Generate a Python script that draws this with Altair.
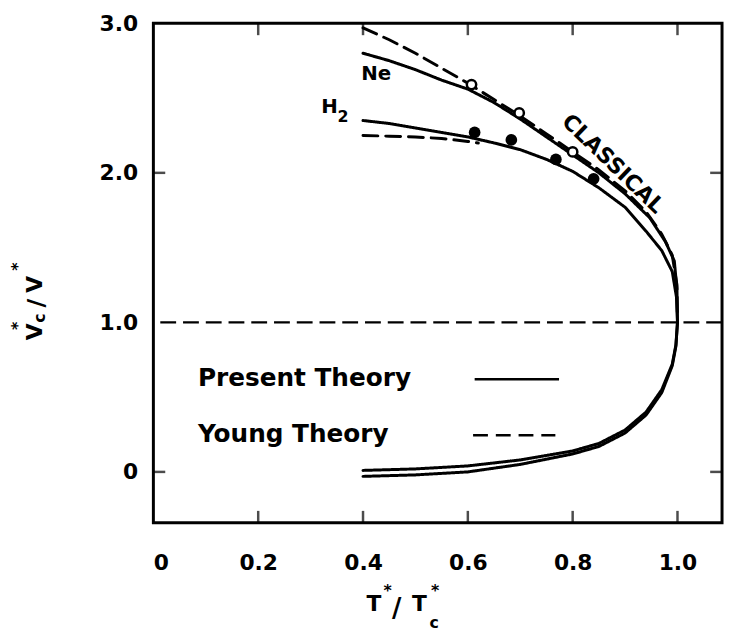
import altair as alt
import pandas as pd

FONT = "DejaVu Sans"

# ---------------- data ----------------
x_tick_values = [0, 0.2, 0.4, 0.6, 0.8, 1.0]
y_tick_values = [0, 1.0, 2.0, 3.0]
x_inward_ticks = [0.2, 0.4, 0.6, 0.8, 1.0]
y_inward_ticks = [0, 2.0]

# liquid branch, classical (dashed)
classical_x = [0.40, 0.45, 0.50, 0.55, 0.60, 0.65, 0.70, 0.75, 0.80, 0.85, 0.90, 0.94, 0.97, 0.99, 0.999, 1.00]
classical_y = [2.97, 2.89, 2.80, 2.70, 2.60, 2.49, 2.38, 2.26, 2.14, 2.02, 1.88, 1.74, 1.59, 1.45, 1.25, 1.00]
# liquid branch, Ne, present theory (solid)
ne_x = [0.40, 0.45, 0.50, 0.55, 0.60, 0.65, 0.70, 0.75, 0.80, 0.85, 0.90, 0.947, 0.977, 0.994, 0.999, 1.00]
ne_y = [2.80, 2.75, 2.69, 2.62, 2.56, 2.47, 2.36, 2.24, 2.12, 2.00, 1.86, 1.70, 1.54, 1.41, 1.22, 1.00]
# liquid branch, H2, present theory (solid)
h2_x = [0.40, 0.45, 0.50, 0.55, 0.60, 0.65, 0.70, 0.75, 0.80, 0.85, 0.90, 0.94, 0.97, 0.99, 0.998, 1.00]
h2_y = [2.35, 2.33, 2.30, 2.27, 2.24, 2.20, 2.155, 2.09, 2.01, 1.90, 1.77, 1.61, 1.48, 1.34, 1.17, 1.00]
# liquid branch, H2, Young theory (dashed)
h2_young_x = [0.40, 0.45, 0.50, 0.55, 0.60, 0.62]
h2_young_y = [2.25, 2.245, 2.24, 2.23, 2.21, 2.20]
# gas branches (solid)
gas_a_x = [0.40, 0.50, 0.60, 0.70, 0.80, 0.85, 0.90, 0.94, 0.97, 0.99, 0.997, 1.00]
gas_a_y = [0.01, 0.02, 0.04, 0.08, 0.14, 0.19, 0.28, 0.40, 0.55, 0.72, 0.85, 1.00]
gas_b_x = [0.40, 0.50, 0.60, 0.70, 0.80, 0.85, 0.90, 0.94, 0.97, 0.99, 0.997, 1.00]
gas_b_y = [-0.03, -0.02, 0.00, 0.05, 0.12, 0.17, 0.26, 0.38, 0.53, 0.71, 0.84, 1.00]

# experimental points
ne_obs_x = [0.607, 0.698, 0.80]
ne_obs_y = [2.59, 2.40, 2.14]
h2_obs_x = [0.613, 0.683, 0.768, 0.84]
h2_obs_y = [2.27, 2.22, 2.09, 1.96]

# ---------------- tables ----------------
rows = []
for name, style, xs, ys in [
    ("classical", "dashed", classical_x, classical_y),
    ("Ne present", "solid", ne_x, ne_y),
    ("H2 present", "solid", h2_x, h2_y),
    ("H2 Young", "dashed", h2_young_x, h2_young_y),
    ("gas a", "solid", gas_a_x, gas_a_y),
    ("gas b", "solid", gas_b_x, gas_b_y),
]:
    for i, (xv, yv) in enumerate(zip(xs, ys)):
        rows.append({"x": xv, "y": yv, "curve": name, "style": style, "i": i})
curves = pd.DataFrame(rows)
ne_obs = pd.DataFrame({"x": ne_obs_x, "y": ne_obs_y})
h2_obs = pd.DataFrame({"x": h2_obs_x, "y": h2_obs_y})

W, H = 575, 505
xscale = alt.Scale(domain=[0, 1.085], nice=False, zero=False)
yscale = alt.Scale(domain=[-0.34, 3.0], nice=False, zero=False)
label_expr = "datum.value == 0 ? '0' : format(datum.value, '.1f')"
xaxis = alt.Axis(values=x_tick_values, labelExpr=label_expr, ticks=False, domain=False,
                 grid=False, labelPadding=30, labelFontSize=22, labelFont=FONT,
                 labelFontWeight="bold", labelColor="black", title=None)
yaxis = alt.Axis(values=y_tick_values, labelExpr=label_expr, ticks=False, domain=False,
                 grid=False, labelPadding=16, labelFontSize=22, labelFont=FONT,
                 labelFontWeight="bold", labelColor="black", title=None)
X = alt.X("x:Q", scale=xscale, axis=xaxis)
Y = alt.Y("y:Q", scale=yscale, axis=yaxis)

base_rule = alt.Chart(pd.DataFrame({"y": [1.0]})).mark_rule(
    color="black", strokeWidth=2.5, strokeDash=[16, 7]
).encode(y=Y)

lines = alt.Chart(curves).mark_line(color="black", strokeWidth=3, strokeCap="round").encode(
    x=X, y=Y, detail="curve:N", order="i:Q",
    strokeDash=alt.StrokeDash("style:N", scale=alt.Scale(domain=["solid", "dashed"],
                                                       range=[[1, 0], [15, 8]]), legend=None),
)

open_pts = alt.Chart(ne_obs).mark_point(shape="circle", size=90, filled=True, fill="white",
                                        stroke="black", strokeWidth=2.5, opacity=1).encode(x=X, y=Y)
full_pts = alt.Chart(h2_obs).mark_point(shape="circle", size=140, filled=True, color="black",
                                        opacity=1).encode(x=X, y=Y)

xt = pd.DataFrame({"x": x_inward_ticks})
yt = pd.DataFrame({"y": y_inward_ticks})
tick_top = alt.Chart(xt).mark_tick(orient="vertical", size=12, thickness=2.5, color="black").encode(
    x=X, y=alt.value(6))
tick_bot = alt.Chart(xt).mark_tick(orient="vertical", size=12, thickness=2.5, color="black").encode(
    x=X, y=alt.value(H - 6))
tick_left = alt.Chart(yt).mark_tick(orient="horizontal", size=12, thickness=2.5, color="black").encode(
    y=Y, x=alt.value(6))
tick_right = alt.Chart(yt).mark_tick(orient="horizontal", size=12, thickness=2.5, color="black").encode(
    y=Y, x=alt.value(W - 6))


def txt(text, px, py, size=20, angle=0, align="center", baseline="middle"):
    return alt.Chart(pd.DataFrame({"t": [text]})).mark_text(
        font=FONT, fontWeight="bold", fontSize=size, angle=angle, align=align,
        baseline=baseline, color="black").encode(text="t:N", x=alt.value(px), y=alt.value(py))


def dtxt(text, dx, dy, size=20, angle=0, align="center"):
    return alt.Chart(pd.DataFrame({"t": [text], "x": [dx], "y": [dy]})).mark_text(
        font=FONT, fontWeight="bold", fontSize=size, angle=angle, align=align,
        baseline="middle", color="black").encode(text="t:N", x=X, y=Y)


# curve labels (data coordinates)
lab_ne = dtxt("Ne", 0.425, 2.66, 20)
lab_h = dtxt("H", 0.336, 2.44, 20)
lab_h_sub = dtxt("2", 0.362, 2.37, 16)
lab_cl = dtxt("CLASSICAL", 0.877, 2.06, 22, angle=44)

# legend inside plot (data coordinates)
leg_txt1 = dtxt("Present Theory", 0.085, 0.63, 25, align="left")
leg_txt2 = dtxt("Young Theory", 0.085, 0.25, 25, align="left")
leg_lines = pd.DataFrame({"x": [0.613, 0.61], "x2": [0.774, 0.767], "y": [0.62, 0.245],
                          "style": ["solid", "dashed"]})
leg_rule = alt.Chart(leg_lines).mark_rule(color="black", strokeWidth=2.5).encode(
    x=X, x2="x2:Q", y=Y,
    strokeDash=alt.StrokeDash("style:N", scale=alt.Scale(domain=["solid", "dashed"],
                                                       range=[[1, 0], [12, 7]]), legend=None),
)

# axis titles (built from pieces, pixel positions relative to the plot area)
ytitle = [
    txt("V", -120, 312, 22, 270),
    txt("c", -115, 298, 16, 270),
    txt("/", -118, 283, 24, 270),
    txt("V", -120, 264, 22, 270),
    txt("*", -137, 306, 16, 270),
    txt("*", -137, 246, 16, 270),
]
xtitle = [
    txt("T", 223, 587, 22),
    txt("*", 237, 574, 16),
    txt("/", 246, 592, 26),
    txt("T", 269, 587, 22),
    txt("*", 285, 574, 16),
    txt("c", 284, 606, 16),
]

chart = alt.layer(
    base_rule, lines, open_pts, full_pts, tick_top, tick_bot, tick_left, tick_right,
    lab_ne, lab_h, lab_h_sub, lab_cl, leg_txt1, leg_txt2, leg_rule, *ytitle, *xtitle
).properties(
    width=W, height=H,
    background="white",
    autosize=alt.AutoSizeParams(type="none"),
    padding={"left": 147, "top": 12, "right": 3, "bottom": 108},
).configure_view(
    stroke="black", strokeWidth=3
)

chart.save("out.html", embed_options={"renderer": "svg", "actions": False})
